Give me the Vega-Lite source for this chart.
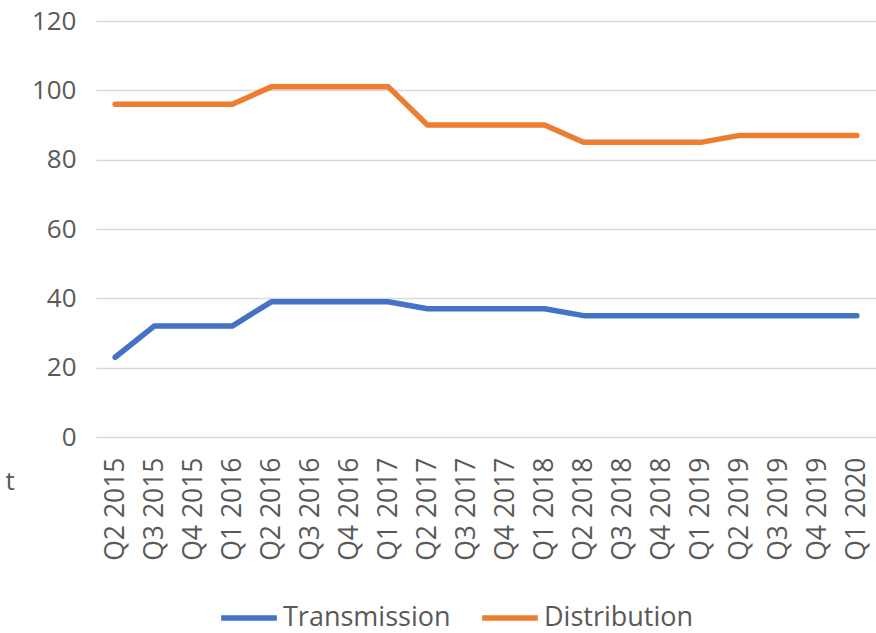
{
  "$schema": "https://vega.github.io/schema/vega-lite/v6.json",
  "autosize": {"type": "none"},
  "width": 780,
  "height": 416,
  "padding": {"left": 96, "top": 21, "right": 0, "bottom": 196},
  "background": "white",
  "config": {
    "view": {"stroke": null},
    "font": "Open Sans"
  },
  "data": {
    "values": [
      {"q": "Q2 2015", "s": "Transmission", "v": 23}, {"q": "Q2 2015", "s": "Distribution", "v": 96},
      {"q": "Q3 2015", "s": "Transmission", "v": 32}, {"q": "Q3 2015", "s": "Distribution", "v": 96},
      {"q": "Q4 2015", "s": "Transmission", "v": 32}, {"q": "Q4 2015", "s": "Distribution", "v": 96},
      {"q": "Q1 2016", "s": "Transmission", "v": 32}, {"q": "Q1 2016", "s": "Distribution", "v": 96},
      {"q": "Q2 2016", "s": "Transmission", "v": 39}, {"q": "Q2 2016", "s": "Distribution", "v": 101},
      {"q": "Q3 2016", "s": "Transmission", "v": 39}, {"q": "Q3 2016", "s": "Distribution", "v": 101},
      {"q": "Q4 2016", "s": "Transmission", "v": 39}, {"q": "Q4 2016", "s": "Distribution", "v": 101},
      {"q": "Q1 2017", "s": "Transmission", "v": 39}, {"q": "Q1 2017", "s": "Distribution", "v": 101},
      {"q": "Q2 2017", "s": "Transmission", "v": 37}, {"q": "Q2 2017", "s": "Distribution", "v": 90},
      {"q": "Q3 2017", "s": "Transmission", "v": 37}, {"q": "Q3 2017", "s": "Distribution", "v": 90},
      {"q": "Q4 2017", "s": "Transmission", "v": 37}, {"q": "Q4 2017", "s": "Distribution", "v": 90},
      {"q": "Q1 2018", "s": "Transmission", "v": 37}, {"q": "Q1 2018", "s": "Distribution", "v": 90},
      {"q": "Q2 2018", "s": "Transmission", "v": 35}, {"q": "Q2 2018", "s": "Distribution", "v": 85},
      {"q": "Q3 2018", "s": "Transmission", "v": 35}, {"q": "Q3 2018", "s": "Distribution", "v": 85},
      {"q": "Q4 2018", "s": "Transmission", "v": 35}, {"q": "Q4 2018", "s": "Distribution", "v": 85},
      {"q": "Q1 2019", "s": "Transmission", "v": 35}, {"q": "Q1 2019", "s": "Distribution", "v": 85},
      {"q": "Q2 2019", "s": "Transmission", "v": 35}, {"q": "Q2 2019", "s": "Distribution", "v": 87},
      {"q": "Q3 2019", "s": "Transmission", "v": 35}, {"q": "Q3 2019", "s": "Distribution", "v": 87},
      {"q": "Q4 2019", "s": "Transmission", "v": 35}, {"q": "Q4 2019", "s": "Distribution", "v": 87},
      {"q": "Q1 2020", "s": "Transmission", "v": 35}, {"q": "Q1 2020", "s": "Distribution", "v": 87}
    ]
  },
  "mark": {"type": "line", "strokeWidth": 5.5, "strokeCap": "round", "strokeJoin": "round"},
  "encoding": {
    "x": {
      "field": "q",
      "type": "ordinal",
      "sort": null,
      "scale": {"type": "point", "padding": 0.49},
      "axis": {
        "title": null,
        "domain": false,
        "ticks": false,
        "grid": false,
        "labelAngle": -90,
        "labelAlign": "right",
        "labelBaseline": "middle",
        "labelFontSize": 26.5,
        "labelColor": "#595959",
        "labelPadding": 20,
        "labelFont": "Open Sans"
      }
    },
    "y": {
      "field": "v",
      "type": "quantitative",
      "scale": {"domain": [0, 120], "nice": false},
      "axis": {
        "values": [0, 20, 40, 60, 80, 100, 120],
        "title": "t",
        "titleAngle": 0,
        "titleX": -91,
        "titleY": 460,
        "titleAlign": "left",
        "titleBaseline": "middle",
        "titleFontSize": 26,
        "titleFontWeight": "normal",
        "titleColor": "#595959",
        "domain": false,
        "ticks": false,
        "gridColor": "#d9d9d9",
        "gridWidth": 1.5,
        "labelFontSize": 26,
        "labelColor": "#595959",
        "labelPadding": 20
      }
    },
    "color": {
      "field": "s",
      "type": "nominal",
      "sort": ["Transmission", "Distribution"],
      "scale": {"domain": ["Transmission", "Distribution"], "range": ["#4472c4", "#ed7d31"]},
      "legend": {
        "title": null,
        "orient": "none",
        "direction": "horizontal",
        "legendX": 122,
        "legendY": 566,
        "symbolType": "stroke",
        "symbolSize": 3100,
        "symbolStrokeWidth": 5.5,
        "labelFontSize": 27,
        "labelLimit": 400,
        "labelColor": "#595959",
        "labelOffset": 3,
        "columnPadding": 20
      }
    }
  }
}
